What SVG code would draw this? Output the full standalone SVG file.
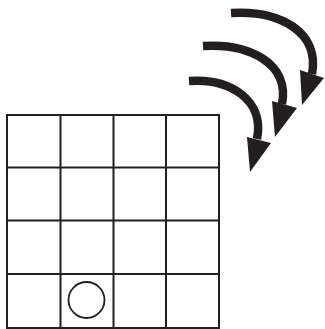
<svg xmlns="http://www.w3.org/2000/svg" width="325" height="329" viewBox="0 0 325 329">
<style>
.grid{fill:none;stroke:#231f20;stroke-width:2}
.shaft{fill:none;stroke:#231f20;stroke-width:8.5}
.head{fill:#231f20}
</style>
<rect width="325" height="329" fill="#fff"/>
<g id="grid">
<rect class="grid" x="7" y="115" width="212" height="213"/>
<path class="grid" d="M60.5,115V328M113.5,115V328M166,115V328M7,167.5H219M7,220.5H219M7,274H219"/>
</g>
<g id="token">
<circle cx="86.5" cy="300" r="18" fill="none" stroke="#231f20" stroke-width="1.8"/>
</g>
<g id="connectors">
<g id="arrow1">
<path class="shaft" d="M231,13 C280,10 320,32 312,74"/>
<polygon class="head" points="300,70 324,78 302,105"/>
</g>
<g id="arrow2">
<path class="shaft" d="M203,46 C250,43 290,64 282,104"/>
<polygon class="head" points="272,101 297,108 275,137"/>
</g>
<g id="arrow3">
<path class="shaft" d="M189,81 C230,78 265,100 257,139"/>
<polygon class="head" points="247,137 271,143 250,172"/>
</g>
</g>
</svg>
